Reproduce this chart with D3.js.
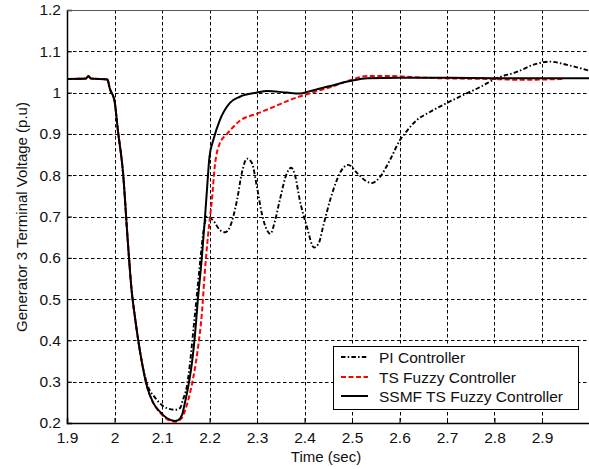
<!DOCTYPE html>
<html><head><meta charset="utf-8">
<script src="https://cdn.jsdelivr.net/npm/d3@7"></script>
<style>body{margin:0;background:#fff}svg{display:block}</style>
</head><body>
<script>
// ---- data ----
const xTicks = [1.9, 2, 2.1, 2.2, 2.3, 2.4, 2.5, 2.6, 2.7, 2.8, 2.9];
const yTicks = [0.2, 0.3, 0.4, 0.5, 0.6, 0.7, 0.8, 0.9, 1, 1.1, 1.2];
const seriesNames = ["PI Controller", "TS Fuzzy Controller", "SSMF TS Fuzzy Controller"];

const ssmfT = [1.9, 1.94, 1.945, 1.95, 1.985, 1.99, 2.0, 2.007, 2.018, 2.028, 2.036, 2.043, 2.05, 2.058, 2.068, 2.081, 2.096, 2.11, 2.127, 2.134, 2.142, 2.148, 2.155, 2.163, 2.169, 2.176, 2.184, 2.19, 2.195, 2.2, 2.208, 2.222, 2.243, 2.264, 2.3, 2.321, 2.363, 2.39, 2.41, 2.454, 2.496, 2.532, 2.6, 2.7, 2.8, 2.9, 3.0];
const ssmfV = [1.033, 1.034, 1.04, 1.034, 1.032, 1.01, 0.98, 0.91, 0.805, 0.64, 0.522, 0.457, 0.40, 0.345, 0.29, 0.25, 0.227, 0.212, 0.205, 0.207, 0.219, 0.248, 0.287, 0.345, 0.408, 0.505, 0.602, 0.69, 0.77, 0.845, 0.885, 0.934, 0.975, 0.99, 1.0, 1.004, 1.0, 0.998, 1.003, 1.016, 1.028, 1.035, 1.036, 1.036, 1.035, 1.035, 1.035];

const tsT = [1.9, 1.94, 1.945, 1.95, 1.985, 1.99, 2.0, 2.007, 2.018, 2.028, 2.036, 2.043, 2.05, 2.058, 2.068, 2.081, 2.096, 2.11, 2.127, 2.14, 2.15, 2.159, 2.166, 2.176, 2.184, 2.19, 2.197, 2.205, 2.211, 2.222, 2.237, 2.264, 2.3, 2.334, 2.369, 2.41, 2.454, 2.496, 2.532, 2.58, 2.65, 2.72, 2.79, 2.86, 2.945];
const tsV = [1.033, 1.034, 1.04, 1.034, 1.032, 1.01, 0.98, 0.91, 0.805, 0.64, 0.522, 0.457, 0.40, 0.345, 0.29, 0.25, 0.225, 0.21, 0.203, 0.21, 0.235, 0.273, 0.311, 0.384, 0.466, 0.563, 0.655, 0.74, 0.82, 0.878, 0.90, 0.932, 0.949, 0.965, 0.982, 0.998, 1.013, 1.03, 1.04, 1.04, 1.036, 1.034, 1.033, 1.031, 1.033];

const piT = [1.9, 1.94, 1.945, 1.95, 1.985, 1.99, 2.0, 2.007, 2.018, 2.028, 2.036, 2.043, 2.05, 2.058, 2.07, 2.085, 2.1, 2.11, 2.127, 2.138, 2.144, 2.152, 2.159, 2.166, 2.173, 2.18, 2.188, 2.195, 2.208, 2.222, 2.233, 2.243, 2.258, 2.268, 2.279, 2.289, 2.3, 2.31, 2.321, 2.328, 2.338, 2.348, 2.363, 2.372, 2.38, 2.39, 2.405, 2.42, 2.43, 2.439, 2.454, 2.468, 2.481, 2.492, 2.511, 2.532, 2.542, 2.559, 2.58, 2.601, 2.612, 2.637, 2.664, 2.7, 2.734, 2.769, 2.805, 2.847, 2.881, 2.917, 2.953, 3.0];
const piV = [1.033, 1.034, 1.04, 1.034, 1.032, 1.01, 0.98, 0.91, 0.805, 0.64, 0.522, 0.457, 0.40, 0.345, 0.29, 0.262, 0.243, 0.236, 0.232, 0.236, 0.256, 0.287, 0.345, 0.425, 0.505, 0.587, 0.67, 0.70, 0.69, 0.667, 0.662, 0.675, 0.74, 0.805, 0.84, 0.83, 0.771, 0.708, 0.667, 0.658, 0.69, 0.74, 0.805, 0.818, 0.80, 0.74, 0.675, 0.625, 0.635, 0.675, 0.74, 0.788, 0.817, 0.825, 0.805, 0.784, 0.781, 0.796, 0.837, 0.885, 0.902, 0.934, 0.953, 0.975, 0.994, 1.013, 1.035, 1.05, 1.067, 1.075, 1.067, 1.053];

// ---- layout ----
const W = 589, H = 469;
const L = 67, R = 589.5, T = 10, B = 423;
const font = "'Liberation Sans', Arial, sans-serif";

const svg = d3.select("body").append("svg").attr("width", W).attr("height", H);
const x = d3.scaleLinear().domain([1.9, 3.0]).range([L, R]);
const y = d3.scaleLinear().domain([0.2, 1.2]).range([B, T]);

// grid
const g = svg.append("g");
g.selectAll("line.vg").data(xTicks.slice(1)).join("line")
  .attr("x1", d => Math.round(x(d)) + 0.5).attr("x2", d => Math.round(x(d)) + 0.5)
  .attr("y1", T).attr("y2", B)
  .attr("stroke", "#000").attr("stroke-width", 1).attr("stroke-dasharray", "3.5,2.5");
g.selectAll("line.hg").data(yTicks.slice(1, -1)).join("line")
  .attr("y1", d => Math.round(y(d)) + 0.5).attr("y2", d => Math.round(y(d)) + 0.5)
  .attr("x1", L).attr("x2", R)
  .attr("stroke", "#000").attr("stroke-width", 1).attr("stroke-dasharray", "3.5,2.5");

// axes
const xAxis = d3.axisBottom(x).tickValues(xTicks).tickSize(-5).tickPadding(9).tickFormat(d3.format("~g"));
const yAxis = d3.axisLeft(y).tickValues(yTicks).tickSize(-5).tickPadding(6).tickFormat(d3.format("~g"));
const gx = svg.append("g").attr("transform", `translate(0,${B})`).call(xAxis);
const gy = svg.append("g").attr("transform", `translate(${L},0)`).call(yAxis);
[gx, gy].forEach(a => {
  a.select(".domain").attr("stroke", "#000").attr("stroke-width", 1.5);
  a.selectAll(".tick line").attr("stroke", "#000");
  a.selectAll("text").attr("font-family", font).attr("font-size", 15.5).attr("fill", "#111");
});
svg.append("line").attr("x1", L).attr("x2", R).attr("y1", T + 0.5).attr("y2", T + 0.5)
  .attr("stroke", "#555").attr("stroke-width", 1);

// lines
svg.append("clipPath").attr("id", "clip").append("rect")
  .attr("x", L).attr("y", T).attr("width", R - L).attr("height", B - T);
const mk = (t, v) => t.map((d, i) => [d, v[i]]);
const plot = svg.append("g").attr("clip-path", "url(#clip)");
const styles = [
  { data: mk(piT, piV), color: "#000", w: 1.9, dash: "4.5,2.2,1.5,2.2" },
  { data: mk(tsT, tsV), color: "#f00", w: 2, dash: "5,2.5" },
  { data: mk(ssmfT, ssmfV), color: "#000", w: 2, dash: null }
];
const lineGen = d3.line().x(d => x(d[0])).y(d => y(d[1])).curve(d3.curveMonotoneX);
styles.forEach(s => {
  plot.append("path").attr("d", lineGen(s.data)).attr("fill", "none")
    .attr("stroke", s.color).attr("stroke-width", s.w)
    .attr("stroke-dasharray", s.dash);
});

// legend
const lg = svg.append("g");
lg.append("rect").attr("x", 333.5).attr("y", 346.5).attr("width", 245).attr("height", 63)
  .attr("fill", "#fff").attr("stroke", "#000").attr("stroke-width", 1);
const rowsY = [357, 377, 396];
styles.forEach((s, i) => {
  lg.append("line").attr("x1", 341).attr("x2", 368).attr("y1", rowsY[i]).attr("y2", rowsY[i])
    .attr("stroke", s.color).attr("stroke-width", s.w).attr("stroke-dasharray", s.dash);
  lg.append("text").attr("x", 379).attr("y", rowsY[i] + 5.5).text(seriesNames[i])
    .attr("font-family", font).attr("font-size", 15.5).attr("fill", "#111");
});

// labels
svg.append("text").attr("x", 326).attr("y", 462).attr("text-anchor", "middle")
  .attr("font-family", font).attr("font-size", 15).attr("fill", "#111").text("Time (sec)");
svg.append("text").attr("transform", "translate(27,217) rotate(-90)").attr("text-anchor", "middle")
  .attr("font-family", font).attr("font-size", 15).attr("fill", "#111").text("Generator 3 Terminal Voltage (p.u)");
</script>
</body></html>
